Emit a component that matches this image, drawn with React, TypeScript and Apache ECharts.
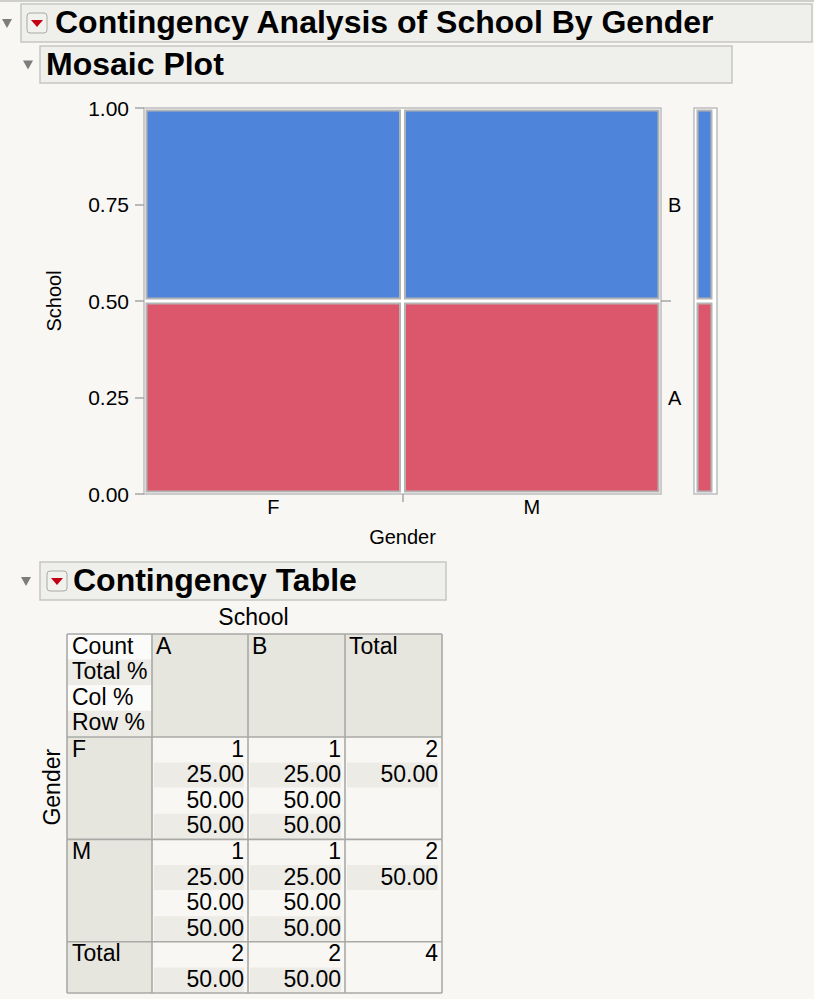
import React, { useEffect, useRef } from "react";
import * as echarts from "echarts";

// ---------- data ----------
const genders = ["F", "M"];
const schools = ["A", "B"];
// counts[gender][school]
const counts = [
  [1, 1],
  [1, 1],
];
const yTickValues = [0, 0.25, 0.5, 0.75, 1];
const statLabels = ["Count", "Total %", "Col %", "Row %"];
const schoolColors = ["#dc576c", "#4e84da"];

const FONT = '"Liberation Sans", Arial, Helvetica, sans-serif';
const BG = "#f8f7f4";

const sum = (a: number[]) => a.reduce((s, v) => s + v, 0);

export default function App() {
  const ref = useRef<HTMLDivElement>(null);

  useEffect(() => {
    document.body.style.margin = "0";
    document.body.style.background = BG;
    if (!ref.current) return;
    const chart = echarts.init(ref.current, undefined, { renderer: "svg" });

    const rowTotals = counts.map((r) => sum(r));
    const colTotals = schools.map((_, j) => sum(counts.map((r) => r[j])));
    const grand = sum(rowTotals);

    // mosaic cells
    const mosaic: number[][] = [];
    const xBounds: number[] = [];
    const xCenters: number[] = [];
    let xc = 0;
    genders.forEach((_, i) => {
      const w = rowTotals[i] / grand;
      let yc = 0;
      schools.forEach((_, j) => {
        const h = counts[i][j] / rowTotals[i];
        mosaic.push([xc, xc + w, yc, yc + h, j]);
        yc += h;
      });
      xCenters.push(xc + w / 2);
      xc += w;
      if (i < genders.length - 1) xBounds.push(xc);
    });
    const marginal: number[][] = [];
    const yBounds: number[] = [];
    const yCenters: number[] = [];
    let ym = 0;
    schools.forEach((_, j) => {
      const h = colTotals[j] / grand;
      marginal.push([0, 1, ym, ym + h, j]);
      yCenters.push(ym + h / 2);
      ym += h;
      if (j < schools.length - 1) yBounds.push(ym);
    });

    const cellRender = (il: number, ir: number, it: number, ib: number) =>
      (params: any, api: any) => {
        const p0 = api.coord([api.value(0), api.value(3)]);
        const p1 = api.coord([api.value(1), api.value(2)]);
        return {
          type: "rect",
          shape: {
            x: p0[0] + il,
            y: p0[1] + it,
            width: p1[0] - p0[0] - il - ir,
            height: p1[1] - p0[1] - it - ib,
          },
          style: {
            fill: schoolColors[api.value(4)],
            stroke: "#b3b3b3",
            lineWidth: 2,
          },
        };
      };

    // ---------- graphic (headers + table) ----------
    const g: any[] = [];
    const txt = (
      text: string,
      x: number,
      y: number,
      font: string,
      align: string = "left",
      extra: any = {}
    ) => ({
      type: "text",
      x,
      y,
      z: 10,
      ...extra,
      style: {
        text,
        font,
        fill: "#000",
        align,
        verticalAlign: "middle",
        textAlign: align,
        textVerticalAlign: "middle",
      },
    });
    const rect = (x: number, y: number, w: number, h: number, style: any, r = 0) => ({
      type: "rect",
      z: 5,
      shape: { x, y, width: w, height: h, r },
      style,
    });
    const tri = (x: number, y: number, w: number, h: number, fill: string) => ({
      type: "polygon",
      z: 10,
      shape: { points: [[x, y], [x + w, y], [x + w / 2, y + h]] },
      style: { fill },
    });
    const titleFont = `bold 32px ${FONT}`;
    const header = (
      bx: number, by: number, bw: number, bh: number,
      triX: number, withButton: boolean, btnX: number, textX: number, title: string
    ) => {
      g.push(rect(bx, by, bw, bh, { fill: "#efefeb", stroke: "#c6c6c2", lineWidth: 1.5 }));
      const cy = by + bh / 2;
      g.push(tri(triX, cy - 4, 10, 9, "#7d7d7d"));
      if (withButton) {
        g.push(rect(btnX, cy - 10, 20, 20, { fill: "#f1f1ee", stroke: "#a9a9a6", lineWidth: 1 }, 3));
        g.push(tri(btnX + 4, cy - 3, 12, 7, "#c40014"));
      }
      g.push(txt(title, textX, cy - 1, titleFont));
    };
    g.push(rect(0, 0, 814, 2, { fill: "#cfcfcc" }));
    header(21, 4, 791, 38, 2, true, 27, 55, "Contingency Analysis of School By Gender");
    header(40, 46, 692, 37, 23, false, 0, 46, "Mosaic Plot");
    header(40, 562, 406, 38, 21, true, 47, 73, "Contingency Table");

    // table
    const tFont = `23px ${FONT}`;
    const colX = [67, 152, 248, 345, 442];
    const LH = 25.6;
    const headTop = 634;
    const headBottom = headTop + LH * 4 + 0.6;
    const blockH = LH * 4;
    const rowTops = genders.map((_, i) => headBottom + blockH * i);
    const totalTop = headBottom + blockH * genders.length;
    const tableBottom = totalTop + LH * 2;
    const dark = "#e6e5de";
    const stripe = "#ecebe6";
    const light = "#f8f7f4";

    g.push(txt("School", (colX[1] + colX[3]) / 2 + 5, 617, tFont, "center"));
    g.push(
      txt("Gender", 52, (rowTops[0] + rowTops[0] + blockH) / 2 - 1, tFont, "center", {
        rotation: Math.PI / 2,
      })
    );

    // header row
    statLabels.forEach((s, k) => {
      g.push(rect(colX[0], headTop + LH * k, colX[1] - colX[0], LH, { fill: k % 2 ? stripe : "#fbfbf9" }));
      g.push(txt(s, colX[0] + 5, headTop + 11.5 + LH * k, tFont));
    });
    [...schools, "Total"].forEach((s, j) => {
      g.push(rect(colX[j + 1], headTop, colX[j + 2] - colX[j + 1], headBottom - headTop, { fill: dark }));
      g.push(txt(s, colX[j + 1] + 4, headTop + 11.5, tFont));
    });

    const dataCell = (j: number, top: number, lines: string[], h: number) => {
      const x0 = colX[j];
      const x1 = colX[j + 1];
      g.push(rect(x0, top, x1 - x0, h, { fill: light }));
      lines.forEach((v, k) => {
        if (k % 2 === 1) g.push(rect(x0 + 2, top + LH * k, x1 - x0 - 6, LH - 0.6, { fill: stripe }));
        g.push(txt(v, x1 - 4, top + 11.5 + LH * k, tFont, "right"));
      });
    };

    genders.forEach((gname, i) => {
      const top = rowTops[i];
      g.push(rect(colX[0], top, colX[1] - colX[0], blockH, { fill: dark }));
      g.push(txt(gname, colX[0] + 5, top + 11.5, tFont));
      schools.forEach((_, j) => {
        const c = counts[i][j];
        dataCell(j + 1, top, [
          String(c),
          ((c / grand) * 100).toFixed(2),
          ((c / colTotals[j]) * 100).toFixed(2),
          ((c / rowTotals[i]) * 100).toFixed(2),
        ], blockH);
      });
      dataCell(3, top, [String(rowTotals[i]), ((rowTotals[i] / grand) * 100).toFixed(2)], blockH);
    });
    g.push(rect(colX[0], totalTop, colX[1] - colX[0], tableBottom - totalTop, { fill: dark }));
    g.push(txt("Total", colX[0] + 5, totalTop + 11.5, tFont));
    schools.forEach((_, j) => {
      dataCell(j + 1, totalTop, [String(colTotals[j]), ((colTotals[j] / grand) * 100).toFixed(2)], tableBottom - totalTop);
    });
    dataCell(3, totalTop, [String(grand)], tableBottom - totalTop);

    // grid lines
    const lineStyle = { stroke: "#a9a9a6", lineWidth: 1.6 };
    colX.forEach((x) =>
      g.push({ type: "line", z: 8, shape: { x1: x, y1: headTop, x2: x, y2: tableBottom }, style: lineStyle })
    );
    [headTop, headBottom, ...rowTops.slice(1), totalTop, tableBottom].forEach((y) =>
      g.push({ type: "line", z: 8, shape: { x1: colX[0], y1: y, x2: colX[4], y2: y }, style: lineStyle })
    );

    const tickColor = "#a6a6a6";
    const option: any = {
      animation: false,
      backgroundColor: BG,
      textStyle: { fontFamily: FONT },
      grid: [
        { left: 144, top: 108, width: 517, height: 386, show: true, backgroundColor: "#ffffff", borderColor: "#bdbdbd", borderWidth: 1.5 },
        { left: 694, top: 108, width: 23, height: 386, show: true, backgroundColor: "#ffffff", borderColor: "#bdbdbd", borderWidth: 1.5 },
      ],
      xAxis: [
        {
          type: "value",
          gridIndex: 0,
          min: 0,
          max: 1,
          axisLine: { show: false },
          splitLine: { show: false },
          axisTick: { show: true, customValues: xBounds, length: 8, lineStyle: { color: tickColor, width: 1.5 } },
          axisLabel: {
            customValues: xCenters,
            formatter: (v: number) => {
              const k = xCenters.findIndex((c) => Math.abs(c - v) < 1e-6);
              return k >= 0 ? genders[k] : "";
            },
            fontSize: 20,
            color: "#000",
            margin: 3,
            fontFamily: FONT,
          },
          name: "Gender",
          nameLocation: "middle",
          nameGap: 33,
          nameTextStyle: { fontSize: 20, color: "#000", fontFamily: FONT },
        },
        { type: "value", gridIndex: 1, min: 0, max: 1, show: false },
      ],
      yAxis: [
        {
          type: "value",
          gridIndex: 0,
          min: 0,
          max: 1,
          interval: 0.25,
          axisLine: { show: false },
          splitLine: { show: false },
          axisTick: { show: true, length: 9, customValues: yTickValues, lineStyle: { color: tickColor, width: 1.5 } },
          axisLabel: {
            customValues: yTickValues,
            formatter: (v: number) => v.toFixed(2),
            fontSize: 21,
            color: "#000",
            margin: 15,
            fontFamily: FONT,
          },
          name: "School",
          nameLocation: "middle",
          nameGap: 80,
          nameRotate: 90,
          nameTextStyle: { fontSize: 20, color: "#000", fontFamily: FONT },
        },
        {
          type: "value",
          gridIndex: 0,
          position: "right",
          min: 0,
          max: 1,
          axisLine: { show: false },
          splitLine: { show: false },
          axisTick: { show: true, customValues: yBounds, length: 10, lineStyle: { color: tickColor, width: 1.5 } },
          axisLabel: {
            customValues: yCenters,
            formatter: (v: number) => {
              const k = yCenters.findIndex((c) => Math.abs(c - v) < 1e-6);
              return k >= 0 ? schools[k] : "";
            },
            fontSize: 20,
            color: "#000",
            margin: 7,
            fontFamily: FONT,
          },
        },
        { type: "value", gridIndex: 1, min: 0, max: 1, show: false },
      ],
      series: [
        {
          type: "custom",
          xAxisIndex: 0,
          yAxisIndex: 0,
          encode: { x: [0, 1], y: [2, 3] },
          data: mosaic,
          renderItem: cellRender(2.5, 2.5, 2.5, 2.5),
        },
        {
          type: "custom",
          xAxisIndex: 1,
          yAxisIndex: 2,
          encode: { x: [0, 1], y: [2, 3] },
          data: marginal,
          renderItem: cellRender(3.5, 5.5, 2.5, 2.5),
        },
      ],
      graphic: g,
    };
    chart.setOption(option);
    return () => chart.dispose();
  }, []);

  return <div ref={ref} style={{ width: 814, height: 999 }} />;
}
